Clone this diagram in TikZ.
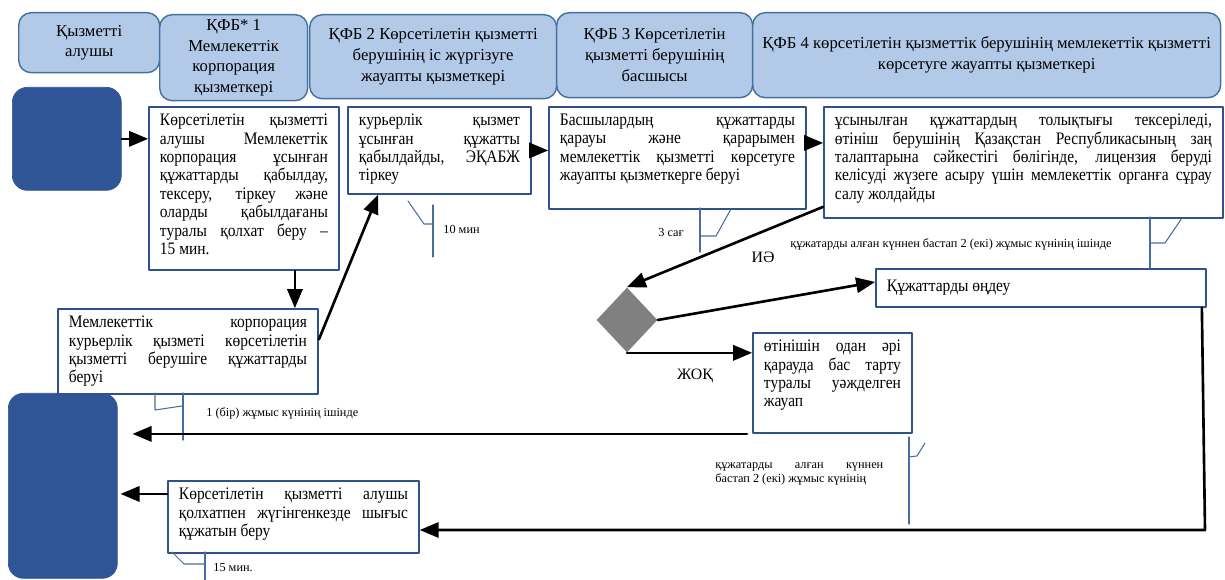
\documentclass[tikz,border=0pt]{standalone}
\usepackage{fontspec}
\setmainfont{Liberation Serif}
\newfontfamily\boxfont[FakeStretch=0.88]{Liberation Serif}
\usepackage{tikz}
\usetikzlibrary{arrows,shapes.geometric}

\definecolor{hdrfill}{RGB}{178,202,232}
\definecolor{hdrline}{RGB}{65,113,156}
\definecolor{blkfill}{RGB}{47,85,151}
\definecolor{boxline}{RGB}{47,82,143}
\definecolor{calline}{RGB}{70,110,160}
\definecolor{diagray}{RGB}{128,128,128}

\newcommand{\boxtxt}[3]{\parbox[c][#2][t]{#1}{\boxfont\fontsize{10}{10.5}\selectfont
  \hyphenpenalty=10000\tolerance=9999\emergencystretch=1em #3}}

\tikzset{
  hdr/.style={draw=hdrline, fill=hdrfill, rounded corners=0.25cm, line width=0.8pt,
    align=center, anchor=north west, inner sep=0pt, font=\fontsize{9.5}{11.8}\selectfont},
  blk/.style={fill=blkfill, draw=blkfill, rounded corners=0.3cm, anchor=north west, inner sep=0pt},
  stepbox/.style={draw=boxline, line width=1.1pt, fill=white, anchor=north west,
    inner xsep=0.22cm, inner ysep=0.14cm},
  dia/.style={diamond, fill=diagray, minimum width=1.22cm, minimum height=1.3cm, inner sep=0pt},
  arr/.style={->, line width=1.5pt},
  callout/.style={draw=calline, line width=0.6pt},
  note/.style={font=\fontsize{7}{8.2}\selectfont, inner sep=0pt, anchor=west},
  yesno/.style={font=\fontsize{9}{10}\selectfont, inner sep=0pt},
}

\begin{document}
\begin{tikzpicture}[line cap=round,line join=round,>=triangle 45,x=0.02cm,y=-0.02cm]
  \useasboundingbox (0,0) rectangle (1225,580);
  %%%% HEADERS
  \node[hdr, minimum width=2.82cm, minimum height=1.2cm] (h0) at (18,12) {Қызметті\\алушы};
  \node[hdr, minimum width=2.96cm, minimum height=1.72cm] (h1) at (159,14)
    {ҚФБ* 1\\Мемлекеттік\\корпорация\\қызметкері};
  \node[hdr, minimum width=4.94cm, minimum height=1.68cm] (h2) at (309,14)
    {ҚФБ 2 Көрсетілетін қызметті\\берушінің іс жүргізуге\\жауапты қызметкері};
  \node[hdr, minimum width=3.92cm, minimum height=1.7cm] (h3) at (556,12)
    {ҚФБ 3 Көрсетілетін\\қызметті берушінің\\басшысы};
  \node[hdr, minimum width=9.36cm, minimum height=1.7cm] (h4) at (752,12)
    {ҚФБ 4 көрсетілетін қызметтік берушінің мемлекеттік қызметті\\көрсетуге жауапты қызметкері};

  %%%% BLOCKS
  \node[blk, minimum width=2.18cm, minimum height=2.06cm] (b1) at (12,87) {};
  \node[blk, minimum width=2.18cm, minimum height=3.7cm] (b2) at (8,393) {};

  %%%% STEPS
  \node[stepbox] (s1) at (148,106) {\boxtxt{3.36cm}{2.98cm}{Көрсетілетін қызметті\linebreak
    алушы Мемлекеттік\linebreak корпорация ұсынған\linebreak құжаттарды қабылдау,\linebreak
    тексеру, тіркеу және\linebreak оларды қабылдағаны\linebreak туралы қолхат беру –\linebreak 15 мин.}};
  \node[stepbox] (s2) at (347,106) {\boxtxt{3.22cm}{1.46cm}{курьерлік қызмет\linebreak
    ұсынған құжатты\linebreak қабылдайды, ЭҚАБЖ\linebreak тіркеу}};
  \node[stepbox] (s3) at (548,106) {\boxtxt{4.70cm}{1.76cm}{Басшылардың құжаттарды\linebreak
    қарауы және қарарымен\linebreak мемлекеттік қызметті көрсетуге\linebreak жауапты қызметкерге беруі}};
  \node[stepbox] (s4) at (823,106) {\boxtxt{7.54cm}{1.94cm}{ұсынылған құжаттардың толықтығы тексеріледі,\linebreak
    өтініш берушінің Қазақстан Республикасының заң\linebreak талаптарына сәйкестігі бөлігінде, лицензия беруді\linebreak
    келісуді жүзеге асыру үшін мемлекеттік органға сұрау\linebreak салу жолдайды}};
  \node[stepbox] (s5) at (57,308) {\boxtxt{4.76cm}{1.42cm}{Мемлекеттік корпорация\linebreak
    курьерлік қызметі көрсетілетін\linebreak қызметті берушіге құжаттарды\linebreak беруі}};
  \node[stepbox] (s6) at (875,268) {\parbox[c][0.48cm][c]{6.16cm}{\boxfont\fontsize{10}{10.5}\selectfont
    Құжаттарды өңдеу}};
  \node[stepbox] (s7) at (752,332) {\boxtxt{2.74cm}{1.72cm}{өтінішін одан әрі\linebreak
    қарауда бас тарту\linebreak туралы уәжделген\linebreak жауап}};
  \node[stepbox] (s8) at (167,480) {\boxtxt{4.58cm}{1.16cm}{Көрсетілетін қызметті алушы\linebreak
    қолхатпен жүгінгенкезде шығыс\linebreak құжатын беру}};

  %%%% DECISION
  \node[dia] (dm) at (627,320) {};
  \node[yesno] (yes) at (763,257) {ИӘ};
  \node[yesno] (no) at (695,376) {ЖОҚ};

  %%%% TIMES
  \node[note] (t10) at (443,229) {10 мин};
  \node[note] (t3) at (658,232) {3 сағ};
  \node[note] (t2a) at (790,244) {құжатарды алған күннен бастап 2 (екі) жұмыс күнінің ішінде};
  \node[note] (t1) at (206,413) {1 (бір) жұмыс күнінің ішінде};
  \node[note, anchor=north west] (t2b) at (715,462) {\parbox{3.36cm}{\hyphenpenalty=10000
    құжатарды алған күннен\linebreak бастап 2 (екі) жұмыс күнінің}};
  \node[note] (t15) at (213,568) {15 мин.};

  \draw[callout] (408,201) -- (424,224) -- (433,224);
  \draw[callout] (433,205) -- (433,257);
  \draw[callout] (700,208) -- (700,252);
  \draw[callout] (700,236) -- (716,236) -- (731,209);
  \draw[callout] (1150,217) -- (1150,268);
  \draw[callout] (1150,243) -- (1165,243) -- (1182,218);
  \draw[callout] (155,393) -- (155,410) -- (182,406);
  \draw[callout] (183,393) -- (183,440);
  \draw[callout] (909,437) -- (909,524);
  \draw[callout] (909,457) -- (917,456) -- (925,443);
  \draw[callout] (172,552) -- (184,564) -- (205,564);
  \draw[callout] (205,552) -- (205,580);

  %%%% ARROWS
  \draw[arr] (b1.east) -- (b1.east -| s1.west);
  \coordinate (p1) at ([xshift=-0.9cm]s1.south east);
  \draw[arr] (p1) -- (p1 |- s5.north);
  \draw[arr] ([yshift=0.24cm]s5.east) -- ([xshift=0.62cm]s2.south west);
  \draw[arr] (s2.east) -- (s2.east -| s3.west);
  \coordinate (p3) at ([yshift=0.3cm]s3.east);
  \draw[arr] (p3) -- (p3 -| s4.west);
  \draw[arr] ([yshift=0.24cm]s4.south west) -- (dm.north);
  \draw[arr] (dm.east) -- ([yshift=0.12cm]s6.west);
  \draw[arr] (dm.south) -- (dm.south -| s7.west);
  \draw[arr, shorten >=0.3cm] ([xshift=-0.1cm]s7.south west) -- (s7.south west -| b2.east);
  \coordinate (c1) at (1205,530);
  \draw[arr] ([xshift=-0.1cm]s6.south east) -- (c1) -- (c1 -| s8.east);
  \coordinate (p8) at ([yshift=0.46cm]s8.west);
  \draw[arr, shorten >=0.06cm] (p8) -- (p8 -| b2.east);
\end{tikzpicture}
\end{document}
